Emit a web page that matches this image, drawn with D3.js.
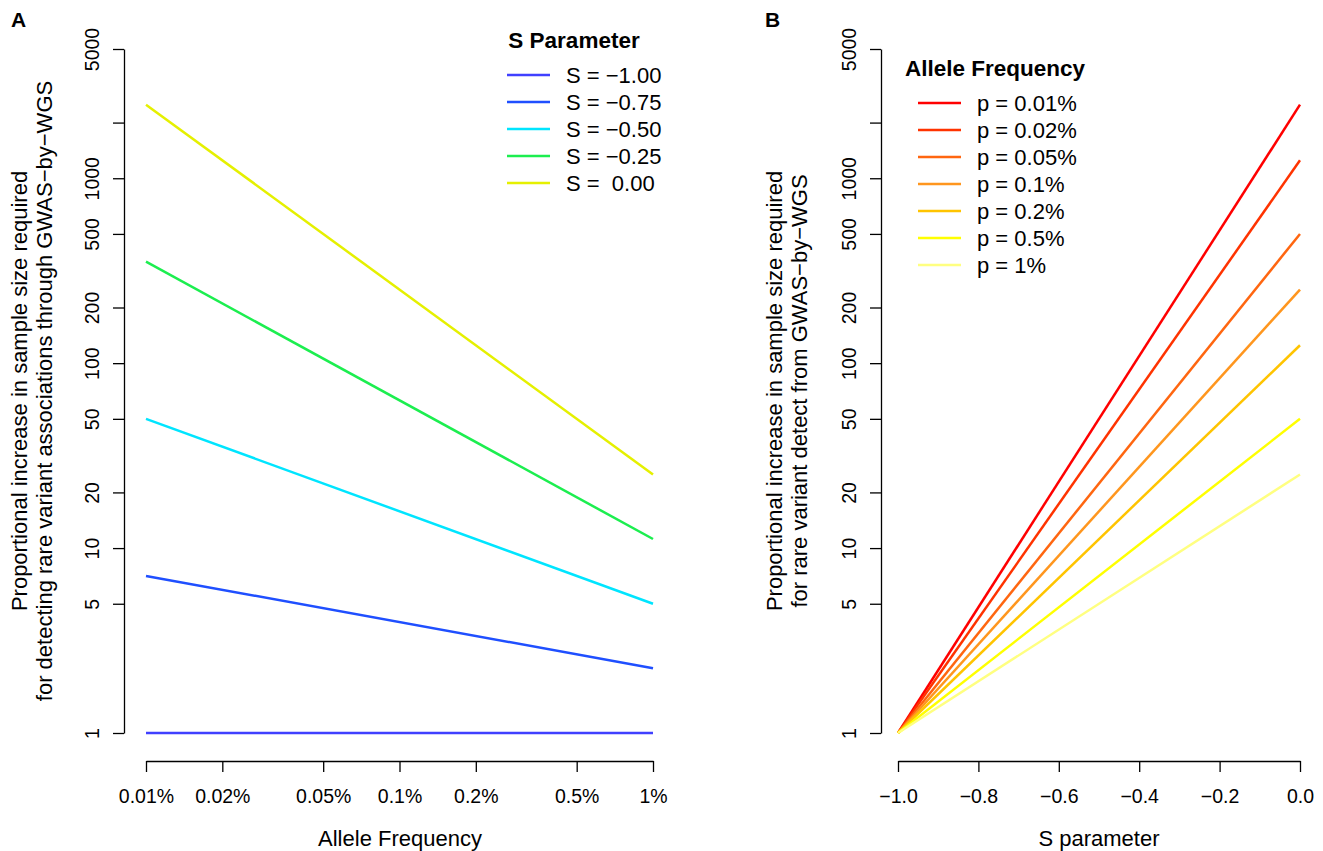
<!DOCTYPE html>
<html>
<head>
<meta charset="utf-8">
<script src="https://cdn.jsdelivr.net/npm/d3@7"></script>
<style>
  body { margin: 0; background: #fff; }
  svg { font-family: "Liberation Sans", Arial, sans-serif; }
  text { white-space: pre; }
</style>
</head>
<body>
<script>
// allele frequencies (x of panel A) and their tick labels
var freqTicks  = [0.0001, 0.0002, 0.0005, 0.001, 0.002, 0.005, 0.01];
var freqLabels = ["0.01%", "0.02%", "0.05%", "0.1%", "0.2%", "0.5%", "1%"];

// y ticks shared by both panels (2000 has no label, R dropped it)
var yTicks  = [1, 5, 10, 20, 50, 100, 200, 500, 1000, 2000, 5000];
var yLabels = ["1", "5", "10", "20", "50", "100", "200", "500", "1000", "", "5000"];

// panel A: one line per S value, read at 0.01% and 1%
var sNames   = ["S = \u22121.00", "S = \u22120.75", "S = \u22120.50", "S = \u22120.25", "S =  0.00"];
var sColors  = ["#4040ff", "#1f4fff", "#00e5ff", "#1cee4f", "#e5f000"];
var aAtLow   = [1, 7.07, 50, 354, 2500];
var aAtHigh  = [1, 2.24, 5, 11.2, 25];

// panel B: one line per allele frequency, read at S = -1 and S = 0
var sTicks   = [-1.0, -0.8, -0.6, -0.4, -0.2, 0.0];
var sTickLab = ["\u22121.0", "\u22120.8", "\u22120.6", "\u22120.4", "\u22120.2", "0.0"];
var pNames   = ["p = 0.01%", "p = 0.02%", "p = 0.05%", "p = 0.1%", "p = 0.2%", "p = 0.5%", "p = 1%"];
var pColors  = ["#ff0000", "#ff3300", "#ff6610", "#ff961e", "#ffc400", "#ffff00", "#ffff80"];
var bAtMinus1 = [1, 1, 1, 1, 1, 1, 1];
var bAtZero   = [2500, 1250, 500, 250, 125, 50, 25];

var W = 1323, H = 851;
var tickFont = 19.5, labFont = 22, legTitleFont = 22.5;

var svg = d3.select("body").append("svg")
    .attr("width", W).attr("height", H);

// y scale is the same for both panels
var yScale = d3.scaleLog().domain([1, 5000]).range([733, 49]);
var xAxisY = 761;

function yAxis(axisX) {
    var g = svg.append("g")
        .attr("transform", "translate(" + axisX + ",0)")
        .call(d3.axisLeft(yScale)
            .tickValues(yTicks)
            .tickSize(11).tickSizeOuter(0)
            .tickFormat(function(d, i) { return yLabels[i]; }));
    g.selectAll("text")
        .attr("transform", "rotate(-90)")
        .attr("x", 0).attr("y", -25).attr("dy", 0)
        .attr("text-anchor", "middle")
        .attr("font-size", tickFont)
        .attr("font-family", "Liberation Sans, Arial, sans-serif");
    styleAxis(g);
}

function xAxis(scale, vals, labels) {
    var g = svg.append("g")
        .attr("transform", "translate(0," + xAxisY + ")")
        .call(d3.axisBottom(scale)
            .tickValues(vals)
            .tickSize(11).tickSizeOuter(0)
            .tickFormat(function(d, i) { return labels[i]; }));
    g.selectAll("text")
        .attr("y", 42).attr("dy", 0)
        .attr("font-size", tickFont)
        .attr("font-family", "Liberation Sans, Arial, sans-serif");
    styleAxis(g);
}

function styleAxis(g) {
    g.select(".domain").attr("stroke", "#000").attr("stroke-width", 1.3);
    g.selectAll(".tick line").attr("stroke", "#000").attr("stroke-width", 1.3);
    g.selectAll("text").attr("fill", "#000");
}

function yTitle(cx, lines) {
    lines.forEach(function(t, i) {
        svg.append("text")
            .attr("transform", "translate(" + (cx + i * 25) + ",391) rotate(-90)")
            .attr("text-anchor", "middle")
            .attr("font-size", labFont)
            .text(t);
    });
}

function legend(x0, y0, title, titleX, titleAnchor, names, colors) {
    svg.append("text")
        .attr("x", titleX).attr("y", y0 - 27)
        .attr("text-anchor", titleAnchor)
        .attr("font-size", legTitleFont)
        .attr("font-weight", "bold")
        .text(title);
    names.forEach(function(n, i) {
        var y = y0 + i * 27;
        svg.append("line")
            .attr("x1", x0).attr("x2", x0 + 43)
            .attr("y1", y).attr("y2", y)
            .attr("stroke", colors[i]).attr("stroke-width", 2.5);
        svg.append("text")
            .attr("x", x0 + 59).attr("y", y + 8)
            .attr("font-size", labFont)
            .text(n);
    });
}

var line = d3.line();

// ---------- Panel A ----------
var xA = d3.scaleLog().domain([0.0001, 0.01]).range([146, 653]);

sNames.forEach(function(n, i) {
    svg.append("path")
        .attr("d", line([[xA(freqTicks[0]), yScale(aAtLow[i])],
                         [xA(freqTicks[freqTicks.length - 1]), yScale(aAtHigh[i])]]))
        .attr("fill", "none")
        .attr("stroke", sColors[i])
        .attr("stroke-width", 2.5);
});

yAxis(124);
xAxis(xA, freqTicks, freqLabels);
yTitle(27, ["Proportional increase in sample size required",
            "for detecting rare variant associations through GWAS\u2212by\u2212WGS"]);
svg.append("text")
    .attr("x", 400).attr("y", 846)
    .attr("text-anchor", "middle").attr("font-size", labFont)
    .text("Allele Frequency");
legend(507, 75, "S Parameter", 574, "middle", sNames, sColors);
svg.append("text")
    .attr("x", 11).attr("y", 27)
    .attr("font-size", 21).attr("font-weight", "bold")
    .text("A");

// ---------- Panel B ----------
var xB = d3.scaleLinear().domain([-1, 0]).range([898, 1300]);

pNames.forEach(function(n, i) {
    svg.append("path")
        .attr("d", line([[xB(sTicks[0]), yScale(bAtMinus1[i])],
                         [xB(sTicks[sTicks.length - 1]), yScale(bAtZero[i])]]))
        .attr("fill", "none")
        .attr("stroke", pColors[i])
        .attr("stroke-width", 2.5);
});

yAxis(881);
xAxis(xB, sTicks, sTickLab);
yTitle(782, ["Proportional increase in sample size required",
             "for rare variant detect from GWAS\u2212by\u2212WGS"]);
svg.append("text")
    .attr("x", 1099).attr("y", 846)
    .attr("text-anchor", "middle").attr("font-size", labFont)
    .text("S parameter");
legend(918, 103, "Allele Frequency", 905, "start", pNames, pColors);
svg.append("text")
    .attr("x", 765).attr("y", 27)
    .attr("font-size", 21).attr("font-weight", "bold")
    .text("B");
</script>
</body>
</html>
